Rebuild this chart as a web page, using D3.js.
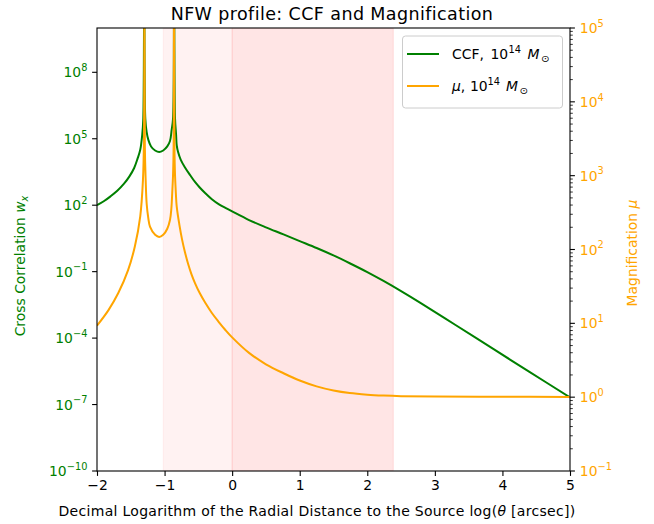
<!DOCTYPE html>
<html><head><meta charset="utf-8">
<script src="https://cdn.jsdelivr.net/npm/d3@7"></script>
<style>body{margin:0;background:#fff} svg{display:block} text{font-family:"DejaVu Sans",sans-serif}</style>
</head><body><svg id="c" width="654" height="524"></svg>
<script>
// ---- data ----
const ccfLogTheta = [-2.00,-1.90,-1.80,-1.70,-1.60,-1.52,-1.45,-1.40,-1.36,-1.33,-1.315,-1.30,-1.285,-1.265,-1.24,-1.20,-1.14,-1.08,-1.02,-0.96,-0.92,-0.895,-0.875,-0.86,-0.845,-0.83,-0.82,-0.80,-0.76,-0.70,-0.62,-0.55,-0.48,-0.40,-0.30,-0.20,-0.10,0.00,0.25,0.50,0.76,1.00,1.25,1.50,1.74,2.00,2.24,2.50,2.78,3.30,3.87,4.40,5.00];
const ccfValues = [100,151,251,447,933,2.0e3,4.8e3,1.26e4,3.16e4,1.58e5,7.9e5,1e13,7.9e5,2.0e5,8.9e4,4.5e4,2.95e4,2.5e4,2.95e4,4.5e4,7.9e4,2.5e5,7.9e5,1e13,7.9e5,1.58e5,5.0e4,2.5e4,1.12e4,5.2e3,2.24e3,1.12e3,631,355,186,112,76,52.5,21.4,10,4.8,2.4,1.17,0.54,0.24,0.0955,0.038,0.0132,4.0e-3,4.0e-4,3.16e-5,3.0e-6,2.1e-7];
const muLogTheta = [-2.00,-1.83,-1.685,-1.54,-1.44,-1.36,-1.32,-1.305,-1.30,-1.292,-1.28,-1.265,-1.24,-1.216,-1.14,-1.08,-1.02,-0.96,-0.92,-0.90,-0.886,-0.875,-0.866,-0.86,-0.854,-0.845,-0.835,-0.82,-0.78,-0.74,-0.70,-0.65,-0.60,-0.55,-0.48,-0.40,-0.30,-0.20,-0.10,0.00,0.25,0.50,0.76,1.00,1.25,1.50,1.74,2.00,2.24,2.50,3.00,4.00,5.00];
const muValues = [9.3,15.1,25.7,52.5,110,282,871,3.16e3,1e7,2.5e3,891,417,263,204,158,148,158,191,251,355,603,1.0e3,2.5e3,1e7,2.5e3,1.0e3,631,380,214,135,93.3,63.1,45.7,35.1,25.7,19.1,13.8,10.5,8.13,6.46,3.98,2.79,2.11,1.68,1.40,1.23,1.135,1.081,1.052,1.033,1.019,1.012,1.007];
const xTicks = [-2,-1,0,1,2,3,4,5];
const leftTickExps = [-10,-7,-4,-1,2,5,8];
const rightTickExps = [-1,0,1,2,3,4,5];
const spanLight = [-1.02, 0];
const spanDark = [0, 2.385];

// ---- layout ----
const L = 97, R = 570, T = 28, B = 471;
const GREEN = "#008000", ORANGE = "#FFA500";
const svg = d3.select("#c");
const x = d3.scaleLinear().domain([-2,5]).range([L,R]);
const yL = d3.scaleLog().domain([1e-10,1e10]).range([B,T]);
const yR = d3.scaleLog().domain([0.1,1e5]).range([B,T]);
const minus = s => String(s).replace("-", "\u2212");

svg.append("defs").append("clipPath").attr("id","clip")
  .append("rect").attr("x",L).attr("y",T).attr("width",R-L).attr("height",B-T);

// spans
const spanG = svg.append("g").attr("clip-path","url(#clip)");
[[spanLight,0.05],[spanDark,0.1]].forEach(([s,a])=>{
  spanG.append("rect").attr("x",x(s[0])).attr("y",T).attr("width",x(s[1])-x(s[0])).attr("height",B-T)
    .attr("fill","red").attr("fill-opacity",a).attr("stroke","red").attr("stroke-opacity",a).attr("stroke-width",1);
});

// lines
const plot = svg.append("g").attr("clip-path","url(#clip)");
const ccfData = ccfLogTheta.map((t,i)=>[t,ccfValues[i]]);
const muData = muLogTheta.map((t,i)=>[t,muValues[i]]);
const curve = d3.curveCatmullRom.alpha(0.5);
plot.append("path").datum(ccfData)
  .attr("d", d3.line().x(d=>x(d[0])).y(d=>yL(d[1])).curve(curve))
  .attr("fill","none").attr("stroke",GREEN).attr("stroke-width",2);
plot.append("path").datum(muData)
  .attr("d", d3.line().x(d=>x(d[0])).y(d=>yR(d[1])).curve(curve))
  .attr("fill","none").attr("stroke",ORANGE).attr("stroke-width",2);

// axes
const FS = 13.9;
const xAxis = svg.append("g").attr("transform",`translate(0,${B})`)
  .call(d3.axisBottom(x).tickValues(xTicks).tickSize(4.9).tickPadding(4.5).tickFormat(d=>minus(d)));
xAxis.select(".domain").remove();
xAxis.selectAll("line").attr("stroke","#000").attr("stroke-width",1.1);
xAxis.selectAll("text").attr("font-size",FS).attr("fill","#000").attr("font-family","DejaVu Sans");

const leftG = svg.append("g");
leftTickExps.forEach(e=>{
  const yy = yL(Math.pow(10,e));
  leftG.append("line").attr("x1",L-4.9).attr("x2",L).attr("y1",yy).attr("y2",yy).attr("stroke","#000").attr("stroke-width",1.1);
  const t = leftG.append("text").attr("x",L-9.6).attr("y",yy+5).attr("text-anchor","end").attr("fill",GREEN).attr("font-size",FS);
  t.append("tspan").text("10");
  t.append("tspan").attr("dy",-6.2).attr("font-size",9.8).text(minus(e));
});

const rightG = svg.append("g");
for (let e=-1;e<5;e++){
  for (let k=2;k<10;k++){
    const yy = yR(k*Math.pow(10,e));
    rightG.append("line").attr("x1",R).attr("x2",R+2.8).attr("y1",yy).attr("y2",yy).attr("stroke","#000").attr("stroke-width",0.8);
  }
}
rightTickExps.forEach(e=>{
  const yy = yR(Math.pow(10,e));
  rightG.append("line").attr("x1",R).attr("x2",R+4.9).attr("y1",yy).attr("y2",yy).attr("stroke","#000").attr("stroke-width",1.1);
  const t = rightG.append("text").attr("x",R+9.8).attr("y",yy+5).attr("fill",ORANGE).attr("font-size",FS);
  t.append("tspan").text("10");
  t.append("tspan").attr("dy",-6.2).attr("font-size",9.8).text(minus(e));
});

// spines
svg.append("rect").attr("x",L).attr("y",T).attr("width",R-L).attr("height",B-T)
  .attr("fill","none").attr("stroke","#000").attr("stroke-width",1.1);

// title
svg.append("text").attr("x",332).attr("y",20).attr("text-anchor","middle").attr("font-size",17.5).attr("letter-spacing",0.4).attr("fill","#000")
  .text("NFW profile: CCF and Magnification");

// x label
const xl = svg.append("text").attr("x",317).attr("y",516).attr("text-anchor","middle").attr("font-size",14).attr("letter-spacing",0.3).attr("fill","#000");
xl.append("tspan").text("Decimal Logarithm of the Radial Distance to the Source log(");
xl.append("tspan").attr("font-style","italic").text("\u03b8");
xl.append("tspan").text(" [arcsec])");

// y labels
const yl = svg.append("text").attr("transform","translate(25,266) rotate(-90)").attr("text-anchor","middle").attr("font-size",FS).attr("fill",GREEN);
yl.append("tspan").text("Cross Correlation ");
yl.append("tspan").attr("font-style","italic").text("w");
yl.append("tspan").attr("font-style","italic").attr("font-size",9.8).attr("dy",2.5).text("x");

const yr = svg.append("text").attr("transform","translate(637,253) rotate(-90)").attr("text-anchor","middle").attr("font-size",FS).attr("fill",ORANGE);
yr.append("tspan").text("Magnification ");
yr.append("tspan").attr("font-style","italic").text("\u03bc");

// legend
const lg = svg.append("g");
lg.append("rect").attr("x",402.5).attr("y",36).attr("width",160).attr("height",72).attr("rx",3)
  .attr("fill","#fff").attr("fill-opacity",0.8).attr("stroke","#ccc").attr("stroke-width",1);
const legendItems = [
  {color:GREEN, y:54, prefix:"CCF,", italic:false, xs:[452,490.5,508.5,527.5,541]},
  {color:ORANGE, y:86, prefix:"\u03bc,", italic:true, xs:[452,470,487.5,506,519.5]}
];
legendItems.forEach(it=>{
  lg.append("line").attr("x1",407).attr("x2",439).attr("y1",it.y).attr("y2",it.y).attr("stroke",it.color).attr("stroke-width",2);
  const g = lg.append("g").attr("font-size",FS).attr("fill","#000");
  const by = it.y + 5;
  if (it.italic) {
    const t = g.append("text").attr("x",it.xs[0]).attr("y",by);
    t.append("tspan").attr("font-style","italic").text("\u03bc");
    t.append("tspan").text(",");
  } else {
    g.append("text").attr("x",it.xs[0]).attr("y",by).text(it.prefix);
  }
  g.append("text").attr("x",it.xs[1]).attr("y",by).text("10");
  g.append("text").attr("x",it.xs[2]).attr("y",by-6.2).attr("font-size",9.8).text("14");
  g.append("text").attr("x",it.xs[3]).attr("y",by).attr("font-style","italic").text("M");
  g.append("text").attr("x",it.xs[4]).attr("y",by+3).attr("font-size",9.8).text("\u2299");
});
</script></body></html>
